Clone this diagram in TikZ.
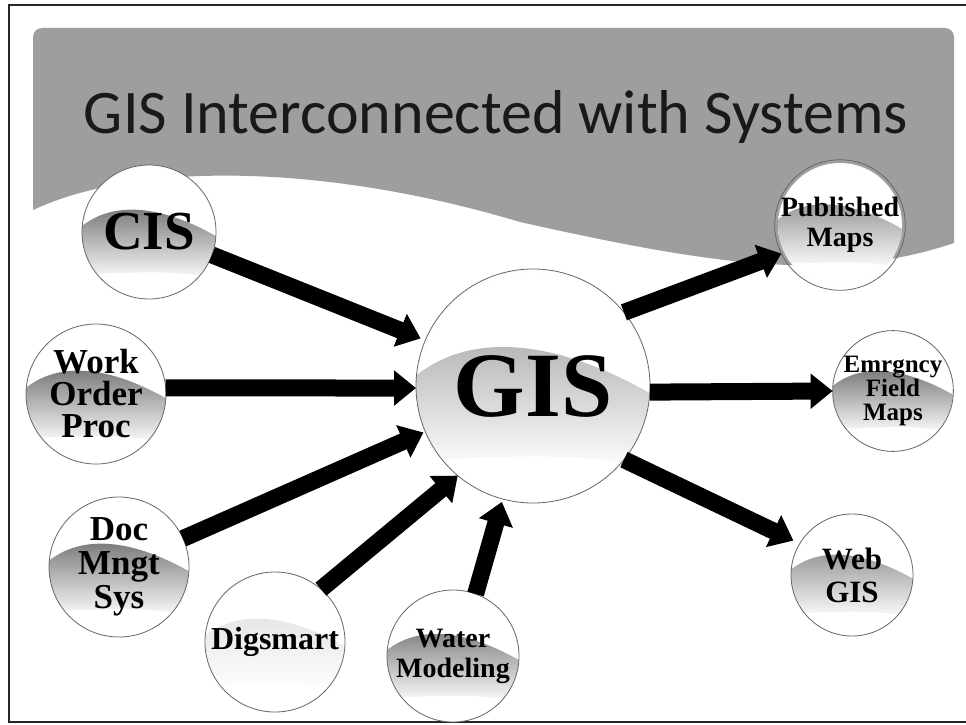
\documentclass[tikz,border=0pt]{standalone}
\usepackage{fontspec}
\setmainfont{Liberation Serif}
\newfontfamily\titlefont{Carlito}
\usetikzlibrary{arrows.meta}
\pgfdeclareradialshading{sphshade}{\pgfpoint{0bp}{0bp}}{color(0bp)=(white); color(24bp)=(white); color(40bp)=(black!18); color(50bp)=(black!42)}
\newcommand\mysphere[8]{%
  \shade[shading=sphshade] (#2,#3) circle[radius=#4];
  \begin{scope}
    \clip (#2,#3) circle[radius=#4];
    \shade[top color=#5, bottom color=white, opacity=0.9, shift={(#2,#3)}, scale=#4]
      (-1.1,0.0) .. controls (-0.6,-0.5) and (0.2,-0.42) .. (1.1,0.12)
      -- (1.1,0.72) .. controls (0.3,0.52) and (-0.4,0.64) .. (-1.1,0.62) -- cycle;
  \end{scope}
  \node[sphnode, minimum size=2*#4pt, font=\fontsize{#7pt}{#8pt}\selectfont\bfseries] (#1) at (#2,#3) {#6};
}
\begin{document}
\begin{tikzpicture}[x=1pt,y=-1pt,
  sphnode/.style={circle, inner sep=0pt, outer sep=0pt, draw=black!60, line width=0.8pt, align=center, text=black},
  arr/.style={line width=17pt, -{Triangle[width=34pt,length=22pt]}}]
\useasboundingbox (0,0) rectangle (966,725);
\fill[white] (0,0) rectangle (966,725);
% frame
\draw[line width=2pt, black!85] (966,5) -- (9,5) -- (9,722) -- (966,722);
% banner
\fill[black!38] (33,210) -- (33,37) arc[start angle=180, end angle=270, radius=9]
  -- (945,28) arc[start angle=-90, end angle=0, radius=9]
  -- (954,243) .. controls (830,285) and (700,262) .. (520,222)
  .. controls (330,165) and (140,160) .. (33,210) -- cycle;
\node[font=\titlefont\fontsize{62pt}{62pt}\selectfont, text=black!90, anchor=base] (title) at (496,133) {GIS Interconnected with Systems};
% spheres
\mysphere{cis}{149}{232}{67}{black!65}{CIS}{55}{50}
\mysphere{wop}{96}{394}{70}{black!65}{Work\\Order\\Proc}{35}{32}
\mysphere{doc}{119}{567}{70}{black!65}{Doc\\Mngt\\Sys}{35}{34}
\mysphere{dig}{275}{642}{70}{black!12}{Digsmart}{32}{32}
\mysphere{wat}{453}{656}{66}{black!60}{Water\\Modeling}{28}{30}
\mysphere{gis}{533}{386}{117}{black!35}{GIS}{92}{92}
\mysphere{pub}{840}{225}{62}{black!50}{Published\\Maps}{28}{30}
\mysphere{emf}{893}{391}{60}{black!65}{Emrgncy\\Field\\Maps}{25}{24}
\mysphere{web}{852}{575}{61}{black!50}{Web\\GIS}{31}{33}
% connectors
\draw[arr, shorten >=5pt] (cis.-20) -- (gis.157);
\draw[arr] (wop.5) -- (gis.181);
\draw[arr, shorten >=2pt] (doc.24) -- (gis.203);
\draw[arr] (dig.49) -- (gis.230);
\draw[arr, shorten >=3pt] (wat.70) -- (gis.255);
\draw[arr] (gis.39) -- (pub.206);
\draw[arr] (gis.-3) -- (emf.180);
\draw[arr, shorten >=7pt] (gis.-39) -- (web.149);
\end{tikzpicture}
\end{document}
